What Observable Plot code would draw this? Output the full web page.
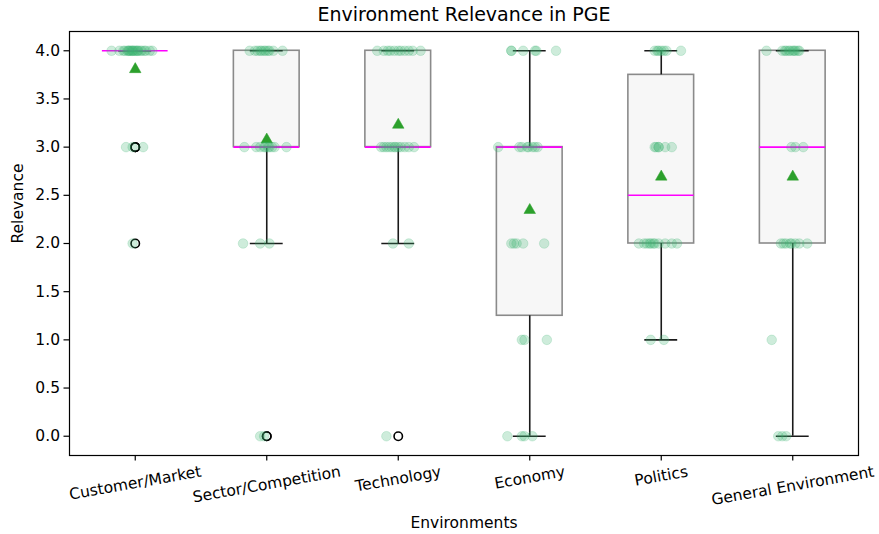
<!DOCTYPE html>
<html>
<head>
<meta charset="utf-8">
<script src="https://cdn.jsdelivr.net/npm/d3@7"></script>
<script src="https://cdn.jsdelivr.net/npm/@observablehq/plot@0.6"></script>
<style>
  body { margin: 0; background: #fff; }
  #chart svg { display: block; }
</style>
</head>
<body>
<div id="chart"></div>
<script>
// ---- Data ----
const categories = ["Customer/Market", "Sector/Competition", "Technology", "Economy", "Politics", "General Environment"];

const customerValues = [2, 3, 3, 3, 4, 4, 4, 4, 4, 4, 4, 4, 4, 4, 4, 4, 4, 4, 4, 4, 4, 4, 4, 4, 4, 4];
const customerJitter = [-0.02, -0.07, -0.02, 0.06, -0.18, -0.12, -0.09, -0.08, -0.06, -0.05, -0.05, -0.04, -0.03, -0.02, -0.02, -0.01, 0, 0.01, 0.02, 0.02, 0.04, 0.05, 0.07, 0.08, 0.11, 0.13];

const sectorValues = [0, 0, 2, 2, 2, 3, 3, 3, 3, 3, 3, 3, 3, 3, 3, 4, 4, 4, 4, 4, 4, 4, 4, 4, 4, 4];
const sectorJitter = [-0.05, -0.02, -0.18, -0.05, 0.02, -0.17, -0.08, -0.05, -0.02, -0.01, 0.01, 0.02, 0.04, 0.06, 0.15, -0.13, -0.09, -0.07, -0.05, -0.04, -0.02, -0.01, 0.01, 0.02, 0.05, 0.12];

const technologyValues = [0, 2, 2, 3, 3, 3, 3, 3, 3, 3, 3, 3, 3, 3, 3, 4, 4, 4, 4, 4, 4, 4, 4, 4, 4, 4];
const technologyJitter = [-0.09, -0.04, 0.08, -0.13, -0.11, -0.09, -0.07, -0.05, -0.03, -0.02, 0, 0.02, 0.05, 0.08, 0.12, -0.16, -0.11, -0.08, -0.06, -0.03, 0, 0.02, 0.05, 0.08, 0.11, 0.17];

const economyValues = [0, 0, 0, 0, 1, 1, 1, 2, 2, 2, 2, 2, 3, 3, 3, 3, 3, 3, 3, 3, 4, 4, 4, 4, 4, 4];
const economyJitter = [-0.17, -0.06, -0.04, 0.02, -0.06, -0.04, 0.13, -0.14, -0.12, -0.1, -0.05, 0.11, -0.24, -0.08, -0.06, -0.02, -0.01, 0.02, 0.04, 0.06, -0.14, -0.14, -0.05, 0.04, 0.05, 0.2];

const politicsValues = [1, 1, 2, 2, 2, 2, 2, 2, 2, 2, 2, 2, 2, 3, 3, 3, 3, 3, 3, 4, 4, 4, 4, 4, 4, 4];
const politicsJitter = [-0.08, 0.02, -0.17, -0.13, -0.11, -0.09, -0.08, -0.06, -0.05, -0.02, 0.03, 0.08, 0.12, -0.05, -0.04, -0.02, -0.02, 0.03, 0.08, -0.05, -0.03, -0.02, 0, 0.02, 0.04, 0.15];

const generalValues = [0, 0, 0, 1, 2, 2, 2, 2, 2, 2, 2, 2, 3, 3, 3, 4, 4, 4, 4, 4, 4, 4, 4, 4, 4, 4];
const generalJitter = [-0.11, -0.08, -0.05, -0.16, -0.09, -0.07, -0.05, -0.02, -0.01, 0.02, 0.05, 0.11, -0.01, 0.02, 0.08, -0.2, -0.08, -0.06, -0.05, -0.03, -0.02, 0, 0.01, 0.02, 0.04, 0.05];

const yTicks = [0, 0.5, 1, 1.5, 2, 2.5, 3, 3.5, 4];
const titleText = "Environment Relevance in PGE";
const xLabel = "Environments";
const yLabel = "Relevance";

// ---- Build tables ----
const valueLists = [customerValues, sectorValues, technologyValues, economyValues, politicsValues, generalValues];
const jitterLists = [customerJitter, sectorJitter, technologyJitter, economyJitter, politicsJitter, generalJitter];

const points = [];
const stats = categories.map((name, i) => {
  const pos = i + 1;
  const vals = valueLists[i];
  vals.forEach((v, j) => points.push({pos, value: v, jitter: jitterLists[i][j]}));
  const s = vals.slice().sort(d3.ascending);
  const q1 = d3.quantile(s, 0.25), med = d3.quantile(s, 0.5), q3 = d3.quantile(s, 0.75);
  const iqr = q3 - q1;
  const lo = d3.min(s.filter(v => v >= q1 - 1.5 * iqr));
  const hi = d3.max(s.filter(v => v <= q3 + 1.5 * iqr));
  const outliers = s.filter(v => v < lo || v > hi);
  return {name, pos, q1, med, q3, lo, hi, mean: d3.mean(s), outliers};
});
const fliers = stats.flatMap(d => d.outliers.map(v => ({pos: d.pos, value: v})));

const FONT = "DejaVu Sans";
const TICK_FS = 15.5;
const ctx = document.createElement("canvas").getContext("2d");
ctx.font = `${TICK_FS}px "${FONT}"`;
const ROT = 10 * Math.PI / 180;
const labelRows = stats.map(d => ({pos: d.pos, name: d.name, w: ctx.measureText(d.name).width}));

const halfBox = 0.25, halfCap = 0.125;
const lineW = 1.6;

const chart = Plot.plot({
  width: 879,
  height: 534,
  marginLeft: 69,
  marginRight: 21,
  marginTop: 31,
  marginBottom: 79,
  style: {fontFamily: FONT, fontSize: TICK_FS + "px", color: "#000", background: "#fff"},
  x: {domain: [0.5, 6.5]},
  y: {domain: [-0.2, 4.2]},
  marks: [
    // boxes
    Plot.rect(stats, {x1: d => d.pos - halfBox, x2: d => d.pos + halfBox, y1: "q1", y2: "q3", fill: "#f7f7f7", stroke: "#8a8a8a", strokeWidth: lineW}),
    // whiskers
    Plot.ruleX(stats, {x: "pos", y1: "q3", y2: "hi", stroke: "#1a1a1a", strokeWidth: lineW}),
    Plot.ruleX(stats, {x: "pos", y1: "q1", y2: "lo", stroke: "#1a1a1a", strokeWidth: lineW}),
    // caps
    Plot.ruleY(stats, {y: "hi", x1: d => d.pos - halfCap, x2: d => d.pos + halfCap, stroke: "#1a1a1a", strokeWidth: lineW}),
    Plot.ruleY(stats, {y: "lo", x1: d => d.pos - halfCap, x2: d => d.pos + halfCap, stroke: "#1a1a1a", strokeWidth: lineW}),
    // medians
    Plot.ruleY(stats, {y: "med", x1: d => d.pos - halfBox, x2: d => d.pos + halfBox, stroke: "#ff00ff", strokeWidth: lineW}),
    // fliers
    Plot.dot(fliers, {x: "pos", y: "value", r: 4.2, fill: "none", stroke: "#000", strokeWidth: 1.6}),
    // means
    Plot.dot(stats, {x: "pos", y: "mean", symbol: "triangle", r: 4.3, fill: "#2ca02c", stroke: "#2ca02c", strokeWidth: 0.5}),
    // jittered observations
    Plot.dot(points, {x: d => d.pos + d.jitter, y: "value", r: 4.8, fill: "#3cb371", fillOpacity: 0.25, stroke: "#3cb371", strokeOpacity: 0.25, strokeWidth: 0.8}),
    // frame & axes
    Plot.frame({stroke: "#000", strokeWidth: 1.2}),
    Plot.axisY({ticks: yTicks, tickFormat: d => d.toFixed(1), tickSize: 5.5, tickPadding: 4, label: null, strokeWidth: 1.2}),
    Plot.axisX({ticks: stats.map(d => d.pos), tickFormat: () => "", tickSize: 5.5, label: null, strokeWidth: 1.2}),
    // rotated category labels (centered like matplotlib rotation=10)
    ...labelRows.map(r => Plot.text([r], {
      x: "pos", text: "name", frameAnchor: "bottom",
      dy: 16 + r.w * Math.sin(ROT) / 2,
      rotate: -10, textAnchor: "middle", lineAnchor: "middle", fontSize: TICK_FS
    })),
    // titles
    Plot.text([titleText], {frameAnchor: "top", dy: -17, fontSize: 19, lineAnchor: "middle"}),
    Plot.text([xLabel], {frameAnchor: "bottom", dy: 68, fontSize: TICK_FS, lineAnchor: "middle"}),
    Plot.text([yLabel], {frameAnchor: "left", dx: -51, rotate: -90, fontSize: TICK_FS, lineAnchor: "middle"})
  ]
});
document.getElementById("chart").appendChild(chart);
</script>
</body>
</html>
